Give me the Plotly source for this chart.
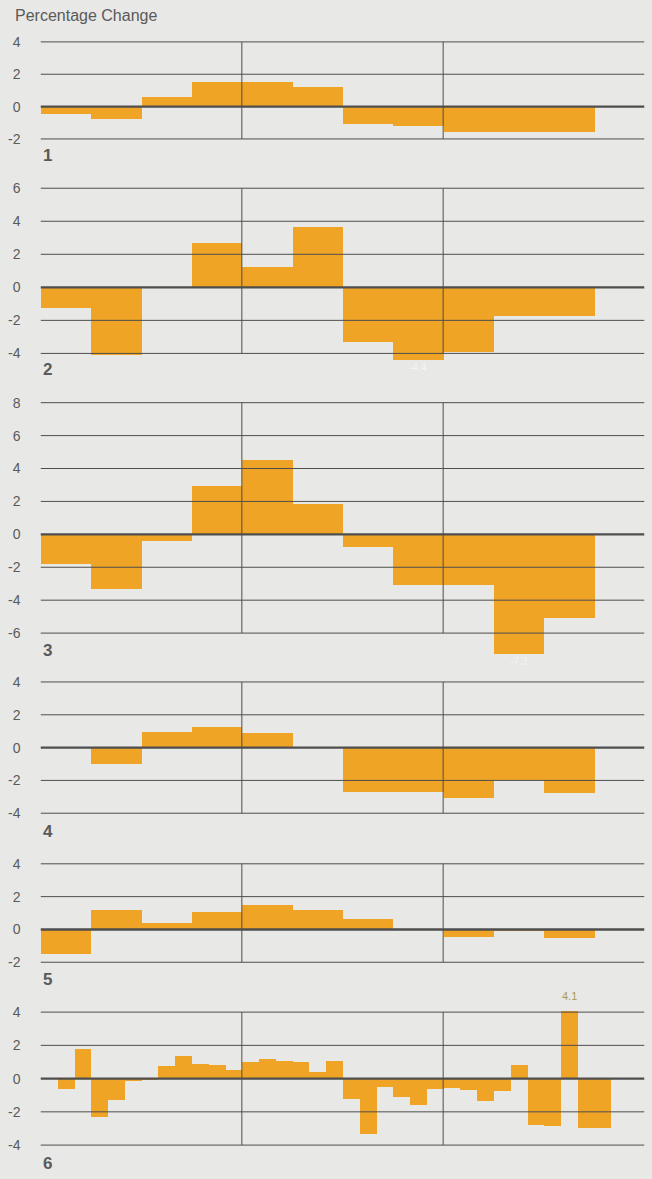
import plotly.graph_objects as go

W, H = 652, 1179

# ---------------- data ----------------
quarters = ["Q1", "Q2", "Q3", "Q4", "Q5", "Q6", "Q7", "Q8", "Q9", "Q10", "Q11"]
panel1 = [-0.5, -0.8, 0.55, 1.5, 1.5, 1.2, -1.1, -1.25, -1.6, -1.6, -1.6]
panel2 = [-1.2, -4.1, 0.0, 2.7, 1.25, 3.7, -3.3, -4.4, -3.9, -1.7, -1.7]
panel3 = [-1.8, -3.3, -0.4, 2.95, 4.5, 1.85, -0.8, -3.1, -3.1, -7.3, -5.1]
panel4 = [0.0, -1.05, 0.95, 1.25, 0.85, 0.0, -2.75, -2.75, -3.1, -2.0, -2.8]
panel5 = [-1.5, 1.15, 0.4, 1.05, 1.45, 1.15, 0.65, 0.0, -0.5, -0.1, -0.55]
months = list(range(1, 35))
panel6 = [0.0, -0.6, 1.8, -2.3, -1.3, -0.15, -0.1, 0.75, 1.4, 0.9, 0.8, 0.5,
          1.0, 1.2, 1.1, 1.0, 0.4, 1.1, -1.2, -3.3, -0.5, -1.1, -1.6, -0.6,
          -0.55, -0.65, -1.35, -0.75, 0.85, -2.75, -2.85, 4.1, -2.95, -2.95]

tick_ranges = [(-2, 4), (-4, 6), (-6, 8), (-4, 4), (-2, 4), (-4, 4)]
panel_names = ["1", "2", "3", "4", "5", "6"]
year_bounds = [12, 24]
clip_labels = [(1, 8, "-4.4"), (2, 10, "-7.3")]  # (panel idx, quarter no., label)
peak_label = (5, 32, "4.1")                       # (panel idx, month no., label)

# ---------------- layout geometry (pixels) ----------------
top_px = [40.0, 186.7, 401.7, 681.7, 864.0, 1012.7]
bot_px = [137.3, 352.3, 632.7, 813.3, 962.7, 1146.0]
pad_lo = [0.4, 0.6, 1.5, 0.4, 0.4, 0.4]
pad_hi = [0.4, 0.4, 0.4, 0.4, 0.4, 0.5]
num_px = [154, 368.5, 650.5, 831.5, 980, 1164.5]
x0_px, x1_px = 40.5, 644.5

BG = "#e8e8e6"
BAR = "#efa426"
GRID = "#4e4e4e"
TXT = "#5a5a5a"
FONT = "Liberation Sans, Arial, sans-serif"

fig = go.Figure()
series = [panel1, panel2, panel3, panel4, panel5, panel6]

for i, vals in enumerate(series):
    ax = "" if i == 0 else str(i + 1)
    if i < 5:
        xs = [3 * k + 1.5 for k in range(len(quarters))]
        width = 3
    else:
        xs = [m - 0.5 for m in months]
        width = 1
    fig.add_trace(go.Bar(x=xs, y=vals, width=width, marker=dict(color=BAR, line=dict(width=0)),
                         xaxis="x" + ax, yaxis="y" + ax, showlegend=False, hoverinfo="skip"))

    lo, hi = tick_ranges[i]
    ppu = (bot_px[i] - top_px[i]) / (hi - lo)
    ytop = top_px[i] - pad_hi[i] * ppu
    ybot = bot_px[i] + pad_lo[i] * ppu
    ticks = list(range(lo, hi + 1, 2))
    fig.update_layout(**{
        "xaxis" + ax: dict(domain=[x0_px / W, x1_px / W], range=[0, 36], showticklabels=False,
                           showgrid=False, zeroline=False, anchor="y" + ax, fixedrange=True),
        "yaxis" + ax: dict(domain=[1 - ybot / H, 1 - ytop / H], range=[lo - pad_lo[i], hi + pad_hi[i]],
                           tickvals=ticks, ticktext=[str(t) for t in ticks], showgrid=False,
                           zeroline=False, anchor="x" + ax, ticks="", ticklabelstandoff=19,
                           tickfont=dict(size=14, color=TXT, family=FONT), fixedrange=True),
    })
    xr, yr = "x" + ax, "y" + ax
    for t in ticks:
        fig.add_shape(type="line", xref=xr, yref=yr, x0=0, x1=36, y0=t, y1=t,
                      line=dict(color=GRID, width=2.4 if t == 0 else 1), layer="above")
    for b in year_bounds:
        fig.add_shape(type="line", xref=xr, yref=yr, x0=b, x1=b, y0=lo, y1=hi,
                      line=dict(color=GRID, width=1), layer="above")
    fig.add_annotation(text="<b>" + panel_names[i] + "</b>", xref="paper", yref="paper",
                       x=41 / W, y=1 - num_px[i] / H, xanchor="left", yanchor="middle",
                       showarrow=False, font=dict(size=17, color=TXT, family=FONT))

for (pi, q, lab) in clip_labels:
    ax = "" if pi == 0 else str(pi + 1)
    v = series[pi][q - 1]
    fig.add_annotation(text=lab, xref="x" + ax, yref="y" + ax, x=3 * q - 1.5, y=v,
                       yanchor="top", showarrow=False, font=dict(size=10, color="#f6f4ee", family=FONT))

pi, m, lab = peak_label
fig.add_annotation(text=lab, xref="x6", yref="y6", x=m - 0.5, y=series[pi][m - 1],
                   yanchor="bottom", yshift=6, showarrow=False,
                   font=dict(size=11, color="#a89b55", family=FONT))

fig.add_annotation(text="Percentage Change", xref="paper", yref="paper", x=13 / W, y=1 - 14 / H,
                   xanchor="left", yanchor="middle", showarrow=False,
                   font=dict(size=16, color=TXT, family=FONT))

fig.update_layout(width=W, height=H, margin=dict(l=0, r=0, t=0, b=0),
                  paper_bgcolor=BG, plot_bgcolor=BG, bargap=0)

fig.write_html("out.html", config={"displayModeBar": False},
               post_script="document.body.style.margin='0px';document.body.style.background='" + BG + "';")
